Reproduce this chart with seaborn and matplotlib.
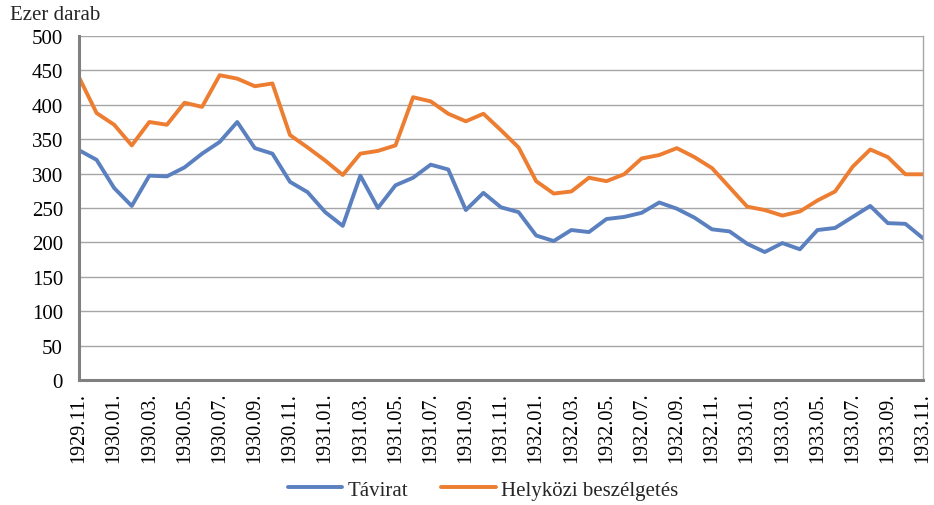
import pandas as pd
import matplotlib
matplotlib.use('Agg')
import matplotlib.pyplot as plt
from matplotlib.lines import Line2D
import seaborn as sns

# havi adatok 1929.11. - 1933.11.
honapok = []
ev, ho = 1929, 11
while (ev, ho) <= (1933, 11):
    honapok.append(f"{ev}.{ho:02d}.")
    ho += 1
    if ho > 12:
        ho = 1
        ev += 1

tavirat = [334, 320, 279, 253, 297, 296, 309, 329, 346, 375, 337, 329, 288,
           273, 244, 224, 297, 250, 283, 294, 313, 306, 247, 272, 251, 244,
           210, 202, 218, 215, 234, 237, 243, 258, 249, 236, 219, 216, 198,
           186, 199, 190, 218, 221, 237, 253, 228, 227, 206]

helykozi = [440, 388, 371, 341, 375, 371, 403, 397, 443, 438, 427, 431, 356,
            338, 319, 298, 329, 333, 341, 411, 405, 387, 376, 387, 363, 338,
            289, 271, 274, 294, 289, 299, 322, 327, 337, 324, 308, 280, 252,
            247, 239, 245, 261, 274, 310, 335, 324, 299, 299]

sorozatok = ['Távirat', 'Helyközi beszélgetés']
szinek = ['#5B80BF', '#ED7D31']

df = pd.DataFrame({
    'i': list(range(len(honapok))) * 2,
    'ertek': tavirat + helykozi,
    'sorozat': [sorozatok[0]] * len(honapok) + [sorozatok[1]] * len(honapok),
})

sns.set_style('white')
plt.rcParams['font.family'] = ['Liberation Serif', 'DejaVu Serif']

fig = plt.figure(figsize=(9.34, 5.06), dpi=100)
ax = fig.add_axes([79 / 934, 1 - 381 / 506, 844 / 934, 344 / 506])

sns.lineplot(data=df, x='i', y='ertek', hue='sorozat', palette=szinek,
             linewidth=2.8, ax=ax, legend=False)

ax.set_xlim(0, len(honapok) - 1)
ax.set_ylim(0, 500)
ax.set_yticks(range(0, 501, 50))
ax.set_xticks(range(0, len(honapok), 2))
ax.set_xticklabels(honapok[::2], rotation=90)
ax.yaxis.grid(True, color='#A6A6A6', linewidth=1.0)
ax.set_axisbelow(True)
ax.set_xlabel('')
ax.set_ylabel('')

for s in ['left', 'bottom']:
    ax.spines[s].set_color('#808080')
    ax.spines[s].set_linewidth(2.2)
ax.spines['right'].set_color('#A6A6A6')
ax.spines['right'].set_linewidth(1.0)
ax.spines['top'].set_visible(False)

ax.tick_params(axis='both', which='both', direction='out', length=4.5,
               width=2.2, color='#808080')
ax.tick_params(axis='y', pad=7, labelsize=15, labelcolor='black')
ax.tick_params(axis='x', pad=4, labelsize=14.5, labelcolor='black')

fig.text(10 / 934, 1 - 15 / 506, 'Ezer darab', fontsize=15, va='center', ha='left')

kezelok = [Line2D([], [], color=c, linewidth=2.8) for c in szinek]
fig.legend(kezelok, sorozatok, loc='center', bbox_to_anchor=(483 / 934, 1 - 491 / 506),
           ncol=2, frameon=False, fontsize=15, handlelength=2.6,
           columnspacing=1.6, handletextpad=0.25)

fig.savefig('out.png', dpi=100)
